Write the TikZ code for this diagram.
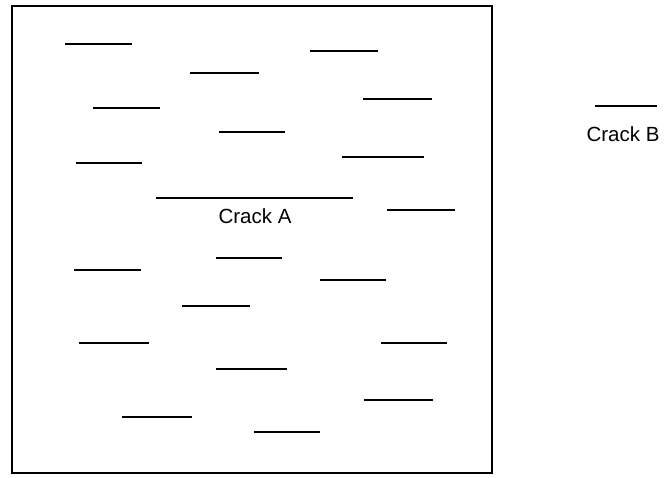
\documentclass[tikz,border=0pt]{standalone}
\usepackage{fontspec}
\setmainfont{Liberation Sans}
\begin{document}
\begin{tikzpicture}[x=1pt,y=-1pt,
  crack/.style={line width=2pt},
  frame/.style={line width=1.4pt},
  lbl/.style={font=\fontsize{20.5}{22}\selectfont, inner sep=0pt}]
\useasboundingbox (0,0) rectangle (671,478);
\draw[frame] (12,6) rectangle (492,473);
\foreach \a/\b/\y in {65/132/44, 190/259/73, 310/378/51, 93/160/108, 363/432/99,
  219/285/132, 76/142/163, 342/424/157, 387/455/210, 74/141/270, 216/282/258,
  320/386/280, 182/250/306, 79/149/343, 381/447/343, 216/287/369, 364/433/400,
  122/192/417, 254/320/432}
  \draw[crack] (\a,\y) -- (\b,\y);
\draw[crack] (156,198) -- (353,198);
\node[lbl, anchor=base] (crackA) at (255,224) {Crack A};
\draw[crack] (595,106) -- (657,106);
\node[lbl, anchor=base] (crackB) at (623,142) {Crack B};
\end{tikzpicture}
\end{document}
